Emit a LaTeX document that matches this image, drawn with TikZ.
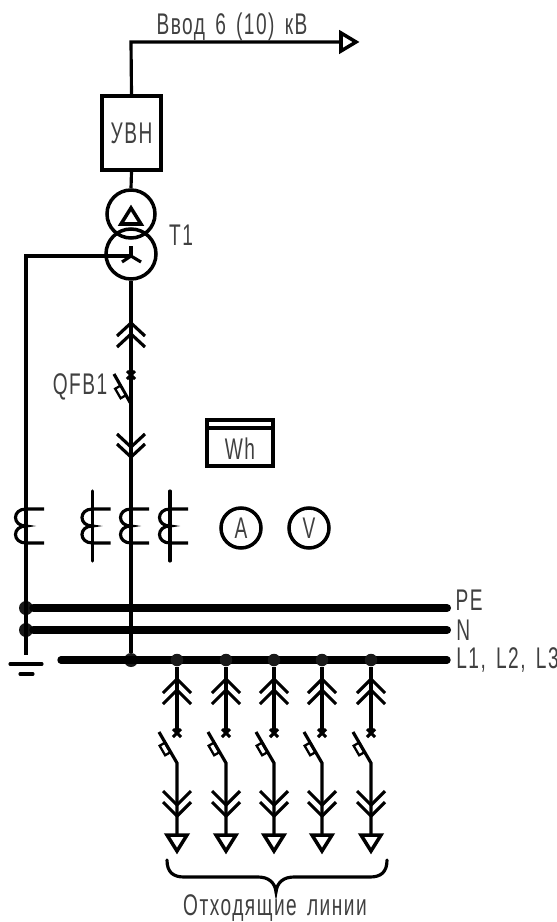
\documentclass[tikz,border=0pt]{standalone}
\usepackage{fontspec}
\setmainfont{Liberation Sans}[FakeStretch=0.64,LetterSpace=5,WordSpace=1.5]
\usepackage{tikz}

\begin{document}
\begin{tikzpicture}[x=0.02cm,y=-0.02cm,
	wire/.style={line width=1.8pt,line join=miter},
	bus/.style={line width=4.6pt,line cap=round},
	dot/.style={draw=none,fill=black!90,circle,inner sep=0pt,minimum size=0.28cm},
	device/.style={draw,line width=2pt,inner sep=0pt},
	fuse/.style={draw,line width=1.3pt,fill=white,inner sep=0pt,minimum width=0.22cm,minimum height=0.12cm},
	label/.style={inner sep=0pt,text=black!75,font=\fontsize{17}{17}\selectfont}]
\useasboundingbox (0,0) rectangle (557,922);
\coordinate (corner) at (131,42);
\coordinate (feed) at (341,42);
\node[device,rectangle,minimum width=1.18cm,minimum height=1.48cm,label] (UVN) at (131.5,133){УВН};
\node[device,circle,minimum size=0.96cm] (T1a) at (131,214){};
\node[device,circle,minimum size=1cm] (T1b) at (131,254){};
\coordinate (star) at (131,256);
\node[label] (T1) at (181,235){Т1};
\node[label] (inlabel) at (232,27){Ввод 6 (10) кВ};
\draw[wire] (feed) -- (corner) -- (UVN.north);
\draw[wire] (UVN.south) -- (T1a.north);
\draw[device,line join=miter] (341,33) -- (356,42) -- (341,51) -- cycle;
\draw[device,line join=miter] (131,208) -- (141,224) -- (121,224) -- cycle;
\draw[wire] (star) -- (131,246);
\draw[wire] (star) -- (122,262);
\draw[wire] (star) -- (141,262);
\node[dot] (busL) at (131,660){};
\node[dot] (busPE) at (26,608){};
\node[dot] (busN) at (26,630){};
\coordinate (earth) at (26,655);
\coordinate (endPE) at (447,608);
\coordinate (endN) at (447,630);
\coordinate (endL) at (447,660);
\coordinate (startL) at (61,660);
\draw[wire] (star) -| (earth);
\draw[wire] (T1b.south) -- (busL);
\draw[wire] (117,336) -- (131,323) -- (145,336);
\draw[wire] (117,347) -- (131,334) -- (145,347);
\draw[wire] (127,371) -- (135,379);
\draw[wire] (135,371) -- (127,379);
\draw[wire] (114,374) -- (131,404);
\node[fuse,rotate=-60] (QFB) at (120.5,392){};
\node[label] (QFBlabel) at (80,387){QFB1};
\draw[wire] (117,434) -- (131,447) -- (145,434);
\draw[wire] (117,444) -- (131,457) -- (145,444);
\node[device,rectangle,minimum width=1.32cm,minimum height=0.92cm] (Wh) at (240,443){};
\draw[wire] (207,428) -- (273,428);
\node[label] (Whlabel) at (240,449){Wh};
\node[device,circle,minimum size=0.8cm,label] (A) at (241,528){А};
\node[device,circle,minimum size=0.8cm,label] (V) at (309,528){V};
\foreach \x in {26,92.5,131,170}{
	\draw[wire] (\x+18,509) -- (\x,509) .. controls (\x-14,509) and (\x-14,526) .. (\x,526)
		.. controls (\x-14,526) and (\x-14,543) .. (\x,543) -- (\x+18,543);
}
\draw[wire,line cap=round] (92.5,491) -- (92.5,561);
\draw[wire,line cap=round] (170,491) -- (170,561);
\draw[bus] (busPE) -- (endPE);
\draw[bus] (busN) -- (endN);
\draw[bus,line width=4.2pt] (startL) -- (endL);
\draw[wire,line cap=round] (10,664) -- (42,664);
\draw[wire,line cap=round] (20,674) -- (33,674);
\node[label] (PE) at (469,600){PE};
\node[label,anchor=west] (N) at (456,630){N};
\node[label,anchor=west] (L) at (456,660){L1, L2, L3};
\foreach \x in {177,226,274,322,371}{
	\node[dot,minimum size=0.25cm] (out\x) at (\x,660){};
	\node[fuse,rotate=-60] (sw\x) at (\x-12,749){};
	\coordinate (top\x) at (\x,732);
	\coordinate (mid\x) at (\x,763);
	\coordinate (low\x) at (\x,835);
	\draw[wire] (out\x) -- (top\x);
	\draw[wire] (\x-14,693) -- (\x,679) -- (\x+14,693);
	\draw[wire] (\x-14,704) -- (\x,690) -- (\x+14,704);
	\draw[wire] (\x-4,729) -- (\x+4,737);
	\draw[wire] (\x+4,729) -- (\x-4,737);
	\draw[wire] (\x-18,732) -- (mid\x) -- (low\x);
	\draw[wire] (\x-14,791) -- (\x,805) -- (\x+14,791);
	\draw[wire] (\x-14,802) -- (\x,816) -- (\x+14,802);
	\draw[device,line join=miter] (\x-10,835) -- (\x+10,835) -- (\x,851) -- cycle;
}
\draw[wire,line cap=round] (167,860) .. controls (167,872) and (173,877) .. (184,877) -- (258,877)
	.. controls (268,877) and (275,882) .. (276,892) .. controls (277,882) and (284,877) .. (294,877)
	-- (370,877) .. controls (381,877) and (387,872) .. (387,860);
\node[label] (outlabel) at (275,908){Отходящие линии};
\end{tikzpicture}
\end{document}
